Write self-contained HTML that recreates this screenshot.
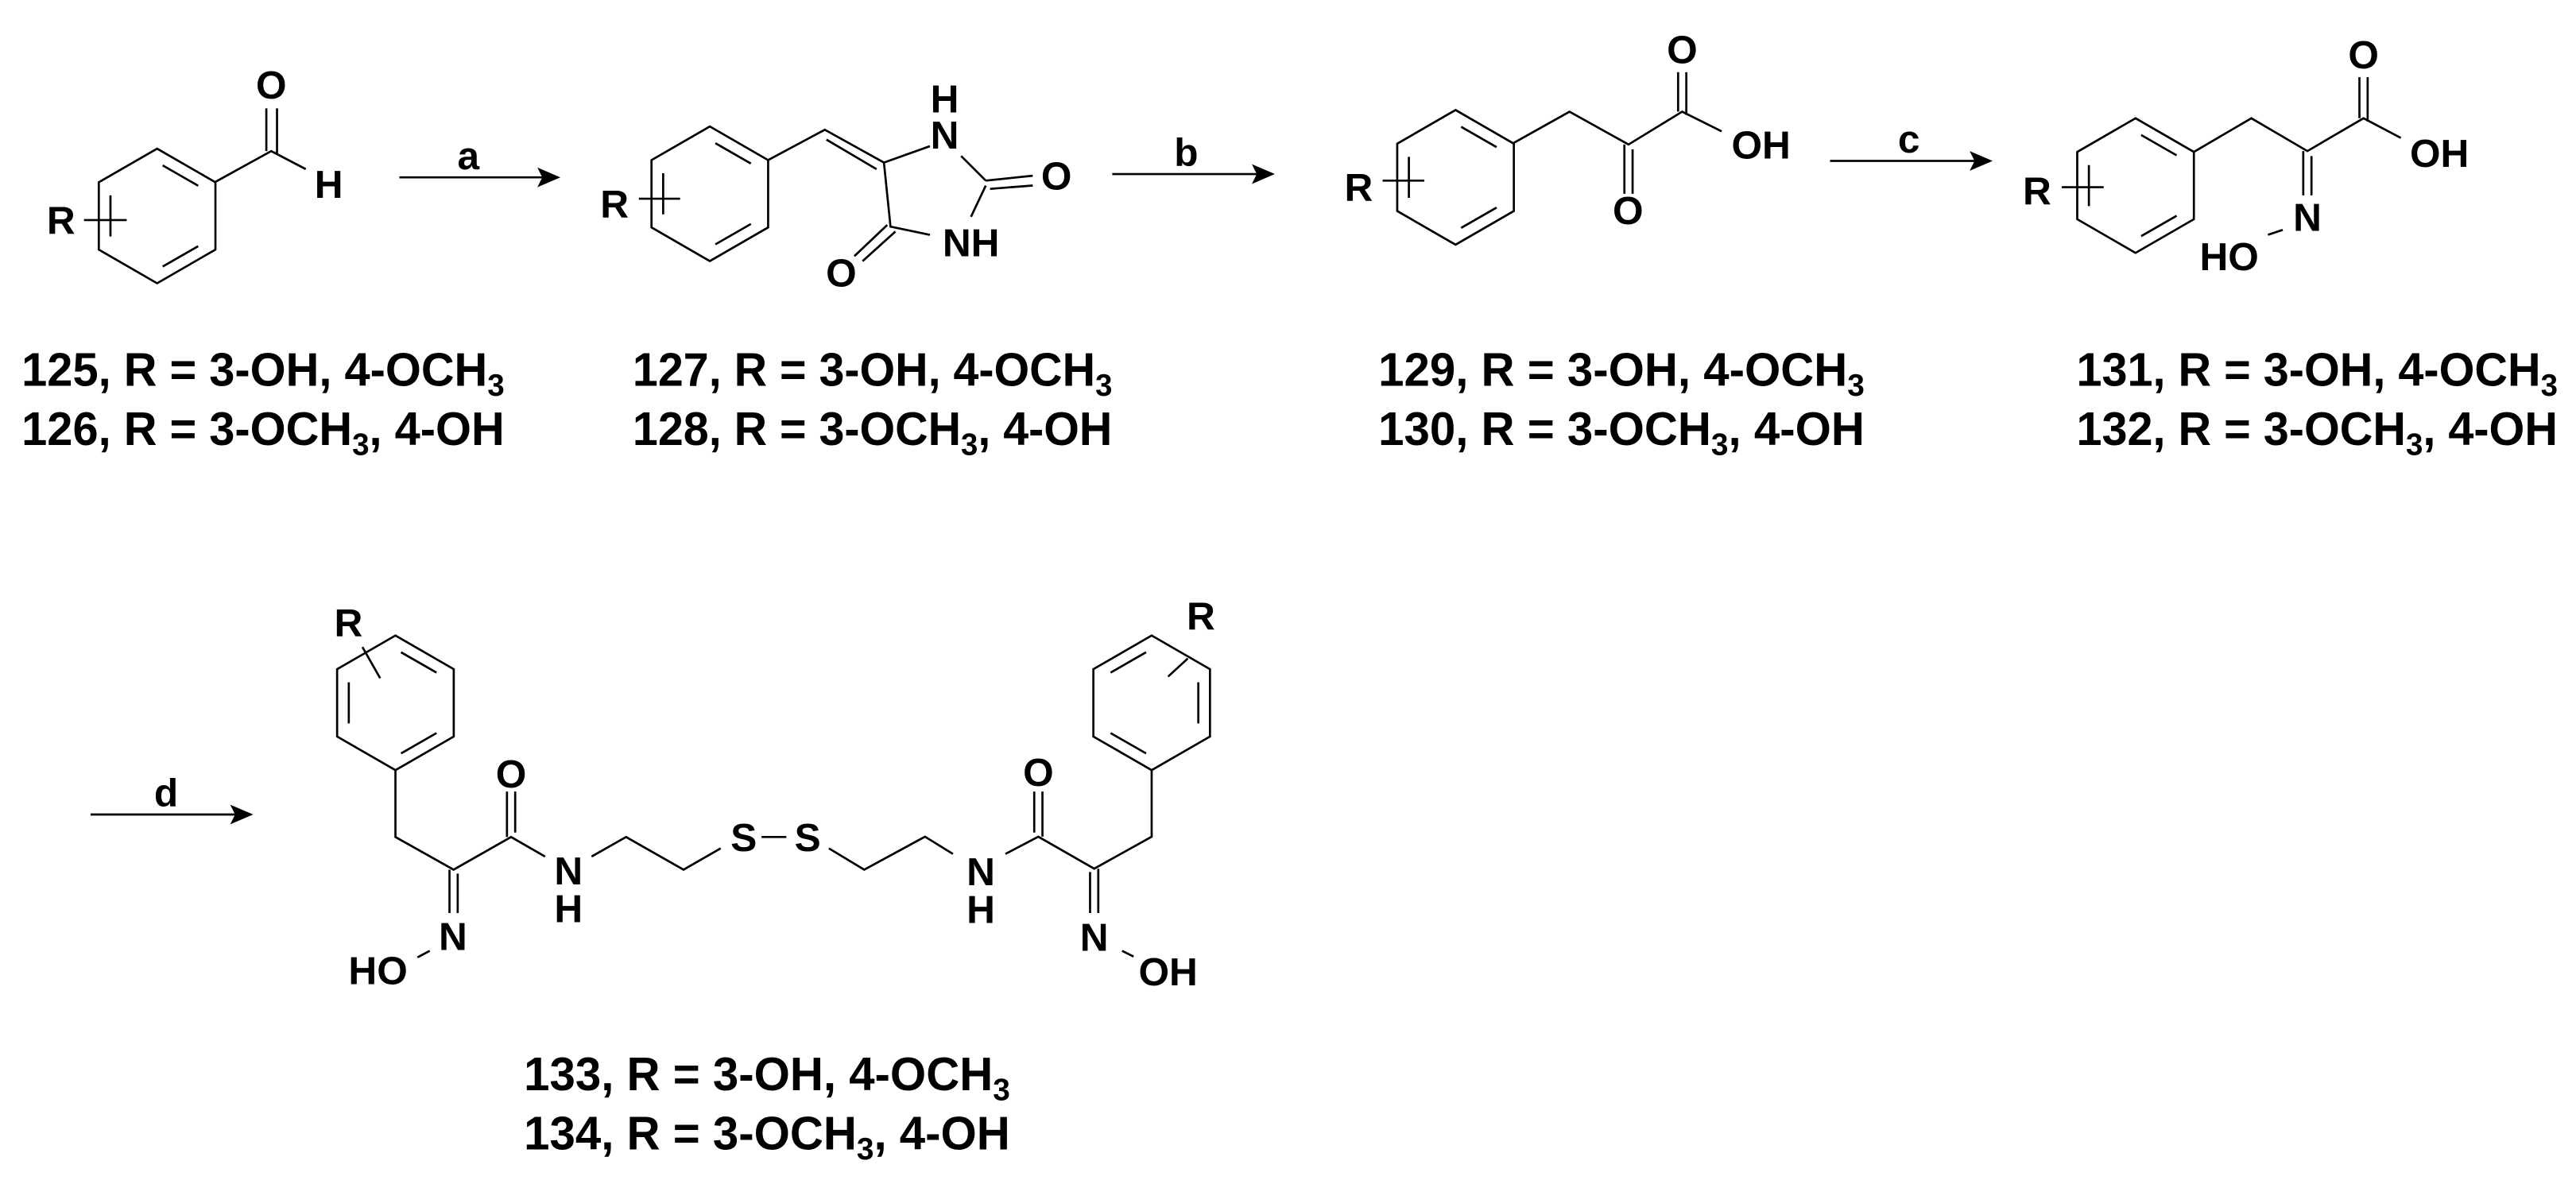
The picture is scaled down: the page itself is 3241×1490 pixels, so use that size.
<!DOCTYPE html>
<html><head><meta charset="utf-8">
<style>
html,body{margin:0;padding:0;background:#fff;}
svg{display:block;}
text{font-family:"Liberation Sans",Arial,sans-serif;font-weight:bold;fill:#000;}
.a{font-size:24px;text-anchor:middle;}
.l{font-size:28.5px;}
.s{font-size:19px;}
</style></head>
<body>
<svg width="3241" height="1490" viewBox="0 0 1568 721" xmlns="http://www.w3.org/2000/svg">
<defs>
<g id="ring">
<path d="M0,-41 L35.5,-20.5 L35.5,20.5 L0,41 L-35.5,20.5 L-35.5,-20.5 Z M3.4,-30.8 L25,-18.4 M25,18.4 L3.4,30.8 M-28.4,12.5 L-28.4,-12.5" fill="none" stroke="#000" stroke-width="1.3"/>
</g>
</defs>
<g fill="none" stroke="#000" stroke-width="1.3">
<!-- 125 -->
<use href="#ring" x="95.5" y="131.5"/>
<path d="M130.5,111 L165,92 L186,103 M162,66 L162,92 M168.5,66 L168.5,94 M51,134 L77,134"/>
<!-- arrow a -->
<path d="M243,108 L333,108"/>
<!-- 127 -->
<use href="#ring" x="432" y="118"/>
<path d="M467.5,97.5 L502,79 L538,99 M503,85 L533.5,103 M538,99 L566,89 M585,95 L600,110 M600,110 L628.6,107 M602.6,115 L628.6,113 M600,113 L591,132 M566,143 L542,138 L538,99 M540,137 L520,156 M545,141 L525,159 M388.8,121 L413.9,121"/>
<!-- arrow b -->
<path d="M677,106 L768,106"/>
<!-- 129 -->
<use href="#ring" x="886" y="108"/>
<path d="M920.6,87.5 L955.4,68 L991.3,88 L1024,68 L1048,80 M988.8,88 L988.8,118 M993.8,91 L993.8,118 M1021.5,44 L1021.5,68 M1026.5,44 L1026.5,70 M841.6,110 L867,110"/>
<!-- arrow c -->
<path d="M1114,98 L1205,98"/>
<!-- 131 -->
<use href="#ring" x="1300" y="113"/>
<path d="M1335.5,92.5 L1370.5,72 L1404.6,92 L1438.8,72 L1461.5,84 M1402.1,92 L1402.1,119 M1407.1,95 L1407.1,119 M1436.3,47 L1436.3,72 M1441.3,47 L1441.3,74 M1389.6,140 L1380.6,143 M1255,114 L1280.6,114"/>
<!-- arrow d -->
<path d="M55,496 L146,496"/>
<!-- 133/134 -->
<use href="#ring" x="240.6" y="428"/>
<g transform="translate(701,428) scale(-1,1)"><use href="#ring"/></g>
<path d="M220.5,394 L231.3,413 M723,401 L711,412"/>
<path d="M240.6,469 L240.6,509.7 L276,529.6 L311,509.7 L331.7,521.6 M308.5,482 L308.5,509.7 M313.5,482 L313.5,507 M273.5,529.6 L273.5,556 M278.5,532 L278.5,556 M261.5,579 L254,583"/>
<path d="M360,521.6 L381,509.7 L416,529.6 L438.6,516.6 M463.5,509.7 L478.6,509.7 M504.5,516.6 L526,529.6 L563,509.5 L580,520"/>
<path d="M612,520 L632,509.5 L666,529 L701,509.5 L701,469 M629.5,482 L629.5,507 M634.5,482 L634.5,509.5 M663.5,531 L663.5,556 M668.5,529 L668.5,556 M683,579 L690,582.5"/>
</g>
<g fill="#000">
<polygon points="341,108 327,102 330,108 327,114"/>
<polygon points="776,106 762,100 765,106 762,112"/>
<polygon points="1213,98 1199,92 1202,98 1199,104"/>
<polygon points="154,496 140,490 143,496 140,502"/>
</g>
<!-- atom labels -->
<text class="a" x="165" y="60">O</text>
<text class="a" x="200" y="120.5">H</text>
<text class="a" x="37" y="142.5">R</text>
<text class="a" x="285" y="103">a</text>

<text class="a" x="374" y="132.5">R</text>
<text class="a" x="575" y="68.5">H</text>
<text class="a" x="575" y="90.5">N</text>
<text class="a" x="643" y="115.5">O</text>
<text class="a" x="591" y="156">NH</text>
<text class="a" x="512" y="174.5">O</text>

<text class="a" x="722" y="101">b</text>
<text class="a" x="827" y="122.5">R</text>
<text class="a" x="991" y="136.5">O</text>
<text class="a" x="1024" y="38.5">O</text>
<text class="a" x="1072" y="96.5">OH</text>

<text class="a" x="1162" y="93">c</text>
<text class="a" x="1240" y="124.5">R</text>
<text class="a" x="1404.6" y="140.5">N</text>
<text class="a" x="1357" y="164.5">HO</text>
<text class="a" x="1438.8" y="41.5">O</text>
<text class="a" x="1485" y="101.5">OH</text>

<text class="a" x="101" y="491">d</text>
<text class="a" x="212" y="387.5">R</text>
<text class="a" x="731" y="383.5">R</text>
<text class="a" x="311" y="479.5">O</text>
<text class="a" x="632" y="478.5">O</text>
<text class="a" x="346" y="538.5">N</text>
<text class="a" x="346" y="561.5">H</text>
<text class="a" x="597" y="539">N</text>
<text class="a" x="597" y="562">H</text>
<text class="a" x="452.7" y="518.2">S</text>
<text class="a" x="491.6" y="518.2">S</text>
<text class="a" x="275.6" y="578.5">N</text>
<text class="a" x="230" y="599.2">HO</text>
<text class="a" x="666" y="579">N</text>
<text class="a" x="711" y="600">OH</text>

<!-- compound labels -->
<text class="l" x="13" y="235" textLength="294" lengthAdjust="spacingAndGlyphs">125, R = 3-OH, 4-OCH<tspan class="s" dy="6">3</tspan></text>
<text class="l" x="13" y="271" textLength="294" lengthAdjust="spacingAndGlyphs">126, R = 3-OCH<tspan class="s" dy="6">3</tspan><tspan dy="-6">, 4-OH</tspan></text>
<text class="l" x="385" y="235" textLength="292" lengthAdjust="spacingAndGlyphs">127, R = 3-OH, 4-OCH<tspan class="s" dy="6">3</tspan></text>
<text class="l" x="385" y="271" textLength="292" lengthAdjust="spacingAndGlyphs">128, R = 3-OCH<tspan class="s" dy="6">3</tspan><tspan dy="-6">, 4-OH</tspan></text>
<text class="l" x="839" y="235" textLength="296" lengthAdjust="spacingAndGlyphs">129, R = 3-OH, 4-OCH<tspan class="s" dy="6">3</tspan></text>
<text class="l" x="839" y="271" textLength="296" lengthAdjust="spacingAndGlyphs">130, R = 3-OCH<tspan class="s" dy="6">3</tspan><tspan dy="-6">, 4-OH</tspan></text>
<text class="l" x="1264" y="235" textLength="293" lengthAdjust="spacingAndGlyphs">131, R = 3-OH, 4-OCH<tspan class="s" dy="6">3</tspan></text>
<text class="l" x="1264" y="271" textLength="293" lengthAdjust="spacingAndGlyphs">132, R = 3-OCH<tspan class="s" dy="6">3</tspan><tspan dy="-6">, 4-OH</tspan></text>
<text class="l" x="318.8" y="664" textLength="296" lengthAdjust="spacingAndGlyphs">133, R = 3-OH, 4-OCH<tspan class="s" dy="6">3</tspan></text>
<text class="l" x="318.8" y="700" textLength="296" lengthAdjust="spacingAndGlyphs">134, R = 3-OCH<tspan class="s" dy="6">3</tspan><tspan dy="-6">, 4-OH</tspan></text>
</svg>
</body></html>
